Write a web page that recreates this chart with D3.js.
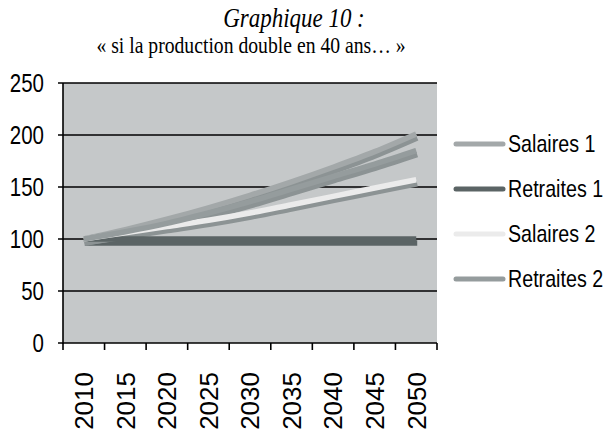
<!DOCTYPE html>
<meta charset="utf-8">
<style>
body { margin: 0; background: #fff; }
text { fill: #000; }
.tick-lab, .legend text { font-family: "Liberation Sans", Arial, sans-serif; font-size: 25px; }
.legend text { font-size: 24px; }
.year { font-family: "Liberation Sans", Arial, sans-serif; font-size: 26px; }
.title { font-family: "Liberation Serif", "Times New Roman", serif; }
</style>
<svg width="607" height="435"></svg>
<script src="https://cdn.jsdelivr.net/npm/d3@7"></script>
<script>

// years on the category axis
var years = ["2010", "2015", "2020", "2025", "2030", "2035", "2040", "2045", "2050"];

// index values (base 100 in 2010)
var salaires1  = [100, 109, 119, 130, 142, 155, 169, 184, 201];
var retraites1 = [100, 100, 100, 100, 100, 100, 100, 100, 100];
var salaires2  = [100, 106, 112, 118, 125, 133, 141, 149, 157];
var retraites2 = [100, 107, 115, 125, 136, 148, 160, 172, 185];

var seriesNames = ["Salaires 1", "Retraites 1", "Salaires 2", "Retraites 2"];
var yTicks = [0, 50, 100, 150, 200, 250];

var series = [
  {name: seriesNames[0], values: salaires1,  color: "#a3a8a9"},
  {name: seriesNames[1], values: retraites1, color: "#5b6465"},
  {name: seriesNames[2], values: salaires2,  color: "#ebebeb"},
  {name: seriesNames[3], values: retraites2, color: "#959c9d"}
];

var svg = d3.select("svg"),
    plot = {left: 63, right: 437, top: 83, bottom: 343},
    squeeze = 0.82; // horizontal text squeeze of the original

var x = d3.scaleBand().domain(years).range([plot.left, plot.right]);
var y = d3.scaleLinear().domain([0, 250]).range([plot.bottom, plot.top]);
function cx(d) { return x(d) + x.bandwidth() / 2; }

// titles
svg.append("text")
    .attr("class", "title")
    .attr("transform", "translate(294,27) scale(" + squeeze + ",1)")
    .attr("text-anchor", "middle")
    .style("font-style", "italic")
    .style("font-size", "28px")
    .text("Graphique 10 :");

svg.append("text")
    .attr("class", "title")
    .attr("transform", "translate(251,53) scale(" + squeeze + ",1)")
    .attr("text-anchor", "middle")
    .style("font-size", "24px")
    .text("« si la production double en 40 ans… »");

// plot background
svg.append("rect")
    .attr("x", plot.left)
    .attr("y", plot.top)
    .attr("width", plot.right - plot.left)
    .attr("height", plot.bottom - plot.top)
    .attr("fill", "#c5c8c9");

// gridlines + left ticks
svg.append("g")
  .selectAll("line")
  .data(yTicks)
  .enter().append("line")
    .attr("x1", plot.left - 5)
    .attr("x2", plot.right)
    .attr("y1", function(d) { return y(d); })
    .attr("y2", function(d) { return y(d); })
    .attr("stroke", "#000")
    .attr("stroke-width", 1.6);

svg.append("line")
    .attr("x1", plot.left).attr("x2", plot.left)
    .attr("y1", plot.top).attr("y2", plot.bottom + 1)
    .attr("stroke", "#000")
    .attr("stroke-width", 1.6);

svg.append("g")
  .selectAll("text")
  .data(yTicks)
  .enter().append("text")
    .attr("class", "tick-lab")
    .attr("text-anchor", "end")
    .attr("dy", "0.35em")
    .attr("transform", function(d) { return "translate(44," + y(d) + ") scale(" + squeeze + ",1)"; })
    .text(function(d) { return d; });

// x ticks on band boundaries
var bounds = years.map(function(d) { return x(d); }).concat([x.range()[1]]);
svg.append("g")
  .selectAll("line")
  .data(bounds)
  .enter().append("line")
    .attr("x1", function(d) { return d; })
    .attr("x2", function(d) { return d; })
    .attr("y1", plot.bottom)
    .attr("y2", plot.bottom + 7)
    .attr("stroke", "#000")
    .attr("stroke-width", 1.6);

svg.append("g")
  .selectAll("text")
  .data(years)
  .enter().append("text")
    .attr("class", "year")
    .attr("text-anchor", "end")
    .attr("dy", "0.36em")
    .attr("transform", function(d) { return "translate(" + cx(d) + ",372) rotate(-90)"; })
    .text(function(d) { return d; });

// lines, each with a soft shadow underneath
var line = d3.line()
    .x(function(d, i) { return cx(years[i]); })
    .y(function(d) { return y(d); })
    .curve(d3.curveMonotoneX);

var lines = svg.append("g");

lines.selectAll(".shadow")
  .data(series)
  .enter().append("path")
    .attr("class", "shadow")
    .attr("transform", "translate(1,4)")
    .attr("d", function(d) { return line(d.values); })
    .attr("fill", "none")
    .attr("stroke", function(d, i) { return i == 1 ? "#5b6465" : "#8c9394"; })
    .attr("stroke-width", 5.5);

lines.selectAll(".serie")
  .data(series)
  .enter().append("path")
    .attr("class", "serie")
    .attr("d", function(d) { return line(d.values); })
    .attr("fill", "none")
    .attr("stroke", function(d) { return d.color; })
    .attr("stroke-width", 5.5);

// legend
var legend = svg.append("g")
    .attr("class", "legend")
  .selectAll("g")
  .data(series)
  .enter().append("g")
    .attr("transform", function(d, i) { return "translate(456," + (144 + i * 45) + ")"; });

legend.append("line")
    .attr("x1", 0)
    .attr("x2", 47)
    .attr("stroke", function(d) { return d.color; })
    .attr("stroke-width", 5)
    .attr("stroke-linecap", "round");

legend.append("text")
    .attr("dy", "0.35em")
    .attr("transform", "translate(52,0) scale(" + squeeze + ",1)")
    .text(function(d) { return d.name; });

</script>
